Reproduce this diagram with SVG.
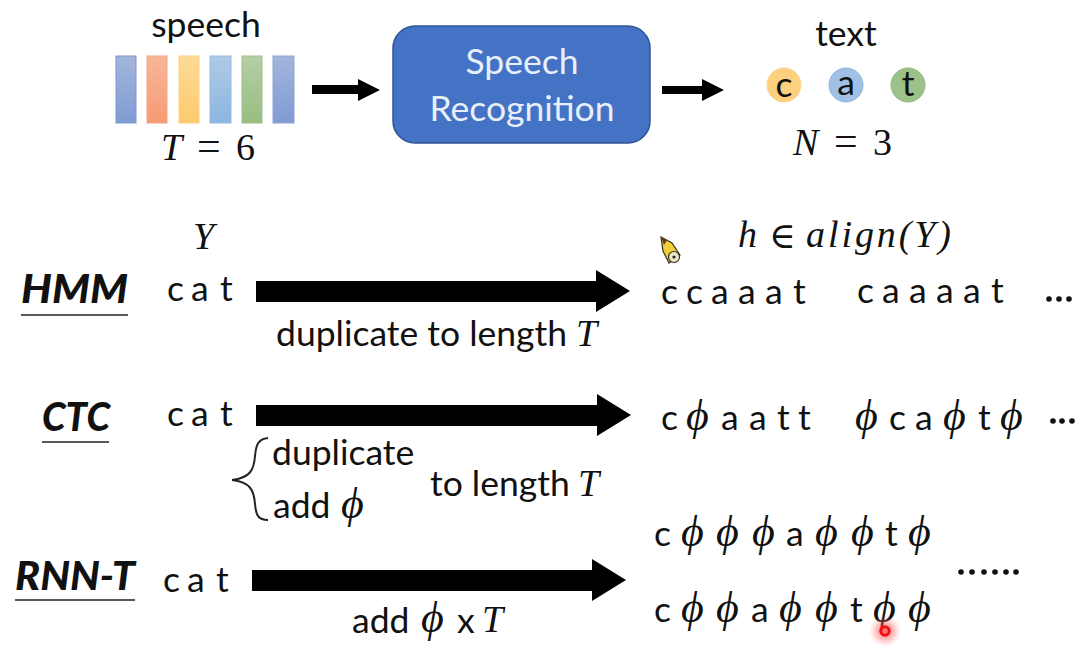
<svg xmlns="http://www.w3.org/2000/svg" width="1092" height="649" viewBox="0 0 1092 649">
<defs>
<linearGradient id="gb" x1="0" y1="0" x2="0" y2="1"><stop offset="0" stop-color="#a3b5dc"/><stop offset="1" stop-color="#7f9cd3"/></linearGradient>
<linearGradient id="go" x1="0" y1="0" x2="0" y2="1"><stop offset="0" stop-color="#f7b79a"/><stop offset="1" stop-color="#f79a73"/></linearGradient>
<linearGradient id="gy" x1="0" y1="0" x2="0" y2="1"><stop offset="0" stop-color="#fedb98"/><stop offset="1" stop-color="#fdca6d"/></linearGradient>
<linearGradient id="gl" x1="0" y1="0" x2="0" y2="1"><stop offset="0" stop-color="#aecbe5"/><stop offset="1" stop-color="#8db5e0"/></linearGradient>
<linearGradient id="gg" x1="0" y1="0" x2="0" y2="1"><stop offset="0" stop-color="#b5cfa5"/><stop offset="1" stop-color="#97bd82"/></linearGradient>
<radialGradient id="glow"><stop offset="0" stop-color="#ff3030" stop-opacity=".75"/><stop offset="0.5" stop-color="#ff5050" stop-opacity=".4"/><stop offset="1" stop-color="#ff8080" stop-opacity="0"/></radialGradient>
</defs>
<style>
text{fill:#111;font-family:Lato,"Open Sans",sans-serif}
.s{font-size:35.5px}
.m{font-family:"Liberation Serif","DejaVu Serif",serif;font-style:italic;font-size:38px}
.n{font-family:"Liberation Serif","DejaVu Serif",serif;font-size:38px}
.p{font-family:"Liberation Serif","DejaVu Serif",serif;font-style:italic;font-size:44px}
.h{font-family:Lato,"Liberation Sans",sans-serif;font-style:italic;font-weight:900;font-size:40px}
.u{stroke:#222;stroke-width:1.6;fill:none}
.d{fill:#111}
.w{fill:#e8eefa;font-size:35.5px}
</style>
<rect width="1092" height="649" fill="#fff"/>

<g id="speech">
<text class="s" x="206" y="37" text-anchor="middle">speech</text>
<rect x="116" y="56" width="20" height="67" fill="url(#gb)" stroke="#7c98cb"/>
<rect x="147" y="56" width="20" height="67" fill="url(#go)" stroke="#f3a583"/>
<rect x="179" y="56" width="20" height="67" fill="url(#gy)" stroke="#fcd27c"/>
<rect x="210" y="56" width="21" height="67" fill="url(#gl)" stroke="#95bbe0"/>
<rect x="242" y="56" width="20" height="67" fill="url(#gg)" stroke="#9cc189"/>
<rect x="273" y="56" width="21" height="67" fill="url(#gb)" stroke="#8ba5d6"/>
<text class="m" x="161" y="160">T</text>
<text class="n" x="197" y="160" style="font-size:42px">=</text>
<text class="n" x="236" y="160">6</text>
</g>

<g id="recognition">
<rect x="393" y="26" width="257" height="117" rx="22" fill="#4472c4" stroke="#2f5597" stroke-width="1.5"/>
<text class="w" x="522" y="74" text-anchor="middle">Speech</text>
<text class="w" x="522" y="121" text-anchor="middle">Recognition</text>
</g>

<g id="text-output">
<text class="s" x="846" y="46" text-anchor="middle">text</text>
<circle cx="784" cy="85" r="17" fill="#fdd07f" stroke="#fbd690"/>
<circle cx="846" cy="85" r="17" fill="#a0c0e6" stroke="#92b6e0"/>
<circle cx="908" cy="85" r="17" fill="#9cc189" stroke="#92ba7e"/>
<text class="s" x="784" y="97" text-anchor="middle">c</text>
<text class="s" x="846" y="95" text-anchor="middle">a</text>
<text class="s" x="908" y="96" text-anchor="middle">t</text>
<text class="m" x="793" y="155">N</text>
<text class="n" x="834" y="155" style="font-size:42px">=</text>
<text class="n" x="873" y="155">3</text>
</g>

<g id="connectors">
<polygon points="312,85 358,85 358,79 380,90 358,101 358,94 312,94" fill="#000"/>
<polygon points="662,86 702,86 702,79 724,90 702,101 702,94 662,94" fill="#000"/>
<polygon points="256,281 596,281 596,270 630,291 596,312 596,302 256,302" fill="#000"/>
<polygon points="256,405 597,405 597,394 631,415 597,436 597,426 256,426" fill="#000"/>
<polygon points="252,570 592,570 592,559 626,580 592,601 592,591 252,591" fill="#000"/>
<path d="M268,438 C258,439 256,445 255,456 C254,470 250,478 232,480 C250,482 254,490 255,504 C256,515 258,520 268,520" fill="none" stroke="#222" stroke-width="2"/>
</g>

<g id="headers">
<text class="m" x="193" y="249">Y</text>
<text class="m" x="738" y="247">h</text>
<text class="n" x="769" y="248" style="font-size:36px">∈</text>
<text class="m" x="806" y="247" textLength="145" lengthAdjust="spacing">align(Y)</text>
</g>
<g id="pencil">
<polygon points="661,237 672,243 680,255 669,263 663,251" fill="#efcf3a" stroke="#332" stroke-width="1.2"/>
<polygon points="661,237 667,240 664,245" fill="#5a3a20"/>
<circle cx="674" cy="257" r="5.5" fill="#efe7c8" stroke="#332" stroke-width="1.2"/>
<circle cx="674" cy="257" r="1.6" fill="#222"/>
</g>

<g id="hmm">
<text class="h" x="21" y="303" textLength="107" lengthAdjust="spacingAndGlyphs">HMM</text>
<line class="u" x1="21" y1="315" x2="128" y2="315"/>
<text class="s" x="167 191 220" y="301">cat</text>
<text class="s" x="276" y="346">duplicate to length</text>
<text class="m" x="576" y="346">T</text>
<text class="s" x="661 686 711 738 765 793" y="304">ccaaat</text>
<text class="s" x="857 882 909 936 963 991" y="303">caaaat</text>
<circle class="d" cx="1049" cy="299" r="2.8"/><circle class="d" cx="1059" cy="299" r="2.8"/><circle class="d" cx="1069" cy="299" r="2.8"/>
</g>

<g id="ctc">
<text class="h" x="42" y="431" textLength="68" lengthAdjust="spacingAndGlyphs">CTC</text>
<line class="u" x1="42" y1="442" x2="109" y2="442"/>
<text class="s" x="167 191 220" y="426">cat</text>
<text class="s" x="272" y="465">duplicate</text>
<text class="s" x="273" y="518">add</text>
<text class="p" x="341" y="518">ϕ</text>
<text class="s" x="430" y="496">to length</text>
<text class="m" x="578" y="496">T</text>
<text class="s" x="661" y="430">c</text>
<text class="p" x="686" y="430">ϕ</text>
<text class="s" x="721 749 777 798" y="430">aatt</text>
<text class="p" x="855" y="430">ϕ</text>
<text class="s" x="889 915" y="430">ca</text>
<text class="p" x="943" y="430">ϕ</text>
<text class="s" x="978" y="430">t</text>
<text class="p" x="1000" y="430">ϕ</text>
<circle class="d" cx="1053" cy="421" r="2.8"/><circle class="d" cx="1062" cy="421" r="2.8"/><circle class="d" cx="1072" cy="421" r="2.8"/>
</g>

<g id="rnnt">
<text class="h" x="15" y="590" textLength="120" lengthAdjust="spacingAndGlyphs">RNN-T</text>
<line class="u" x1="15" y1="600" x2="135" y2="600"/>
<text class="s" x="163 187 216" y="592">cat</text>
<text class="s" x="352" y="633">add</text>
<text class="p" x="421" y="632">ϕ</text>
<text class="s" x="457" y="633">x</text>
<text class="m" x="482" y="632">T</text>
<text class="s" x="654" y="546">c</text>
<text class="p" x="681" y="546">ϕ</text><text class="p" x="716" y="546">ϕ</text><text class="p" x="752" y="546">ϕ</text>
<text class="s" x="786" y="546">a</text>
<text class="p" x="815" y="546">ϕ</text><text class="p" x="851" y="546">ϕ</text>
<text class="s" x="885" y="546">t</text>
<text class="p" x="908" y="546">ϕ</text>
<text class="s" x="654" y="622">c</text>
<text class="p" x="681" y="622">ϕ</text><text class="p" x="716" y="622">ϕ</text>
<text class="s" x="751" y="622">a</text>
<text class="p" x="779" y="622">ϕ</text><text class="p" x="815" y="622">ϕ</text>
<text class="s" x="850" y="622">t</text>
<text class="p" x="873" y="622">ϕ</text><text class="p" x="908" y="622">ϕ</text>
<g class="d"><circle cx="961" cy="572" r="2.8"/><circle cx="972" cy="572" r="2.8"/><circle cx="984" cy="572" r="2.8"/><circle cx="995" cy="572" r="2.8"/><circle cx="1006" cy="572" r="2.8"/><circle cx="1016" cy="572" r="2.8"/></g>
</g>

<g id="cursor">
<circle cx="885" cy="631" r="16" fill="url(#glow)"/>
<circle cx="885" cy="631" r="4.2" fill="none" stroke="#f01010" stroke-width="3"/>
</g>
</svg>
